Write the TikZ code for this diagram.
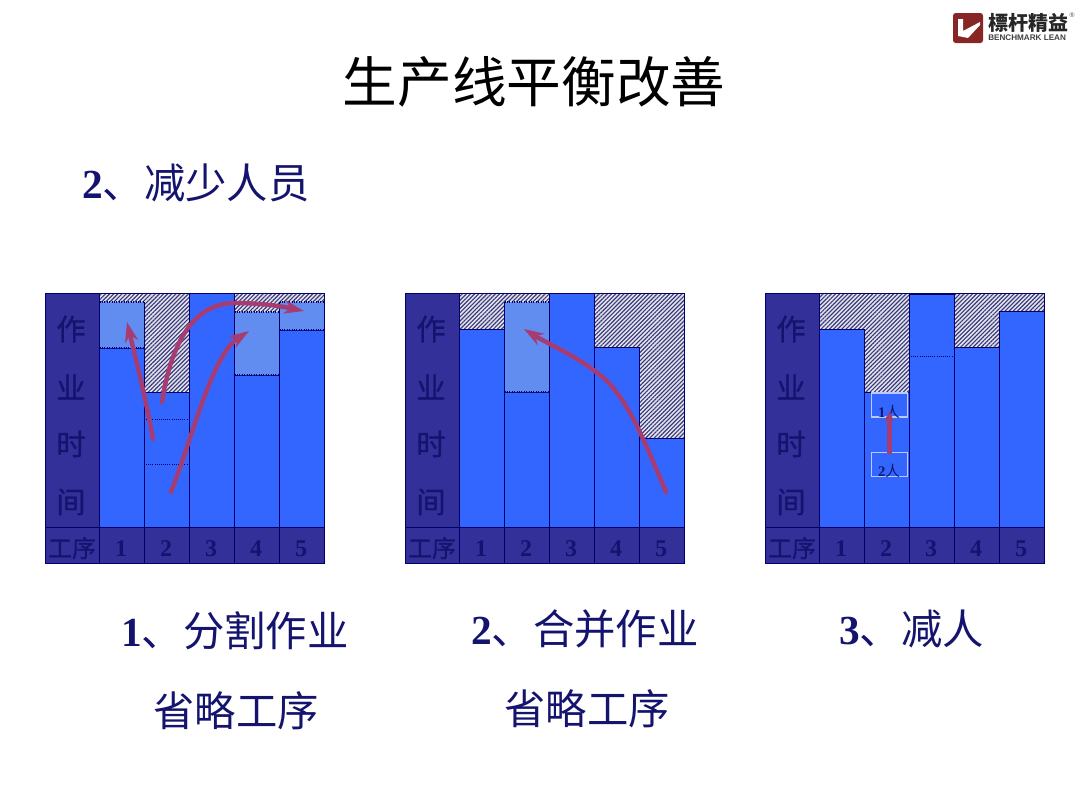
\documentclass[tikz,border=0pt]{standalone}
\usepackage{fontspec}
\setmainfont{Liberation Serif}
\newfontfamily\cjk{Noto Sans CJK SC}
\newfontfamily\cjkh[FakeBold=0.8]{Noto Sans CJK SC}
\newfontfamily\sans{Liberation Sans}
\usetikzlibrary{patterns.meta,arrows.meta,calc}
\definecolor{navy}{HTML}{33309A}
\definecolor{bar}{HTML}{3366FF}
\definecolor{ink}{HTML}{14146E}
\definecolor{lite}{HTML}{6F9AEE}
\definecolor{edge}{HTML}{00006A}
\definecolor{arr}{HTML}{A63C72}
\tikzset{
  x=0.75pt,y=-0.75pt,
  hatched/.style={pattern={Lines[angle=45,distance=2.2pt,line width=.85pt]},pattern color=ink!85,draw=none},
  sidebox/.style={fill=navy,draw=none},
  flow/.style={draw=arr,line width=3.3pt,-{Stealth[length=15pt,width=10pt]},line cap=round},
  side/.style={font=\cjkh\fontsize{22}{22}\selectfont,text=ink,inner sep=0pt},
  num/.style={font=\bfseries\fontsize{18}{18}\selectfont,text=ink,inner sep=0pt},
  proc/.style={font=\cjkh\fontsize{18}{18}\selectfont,text=ink,inner sep=0pt},
  capa/.style={font=\fontsize{31}{31}\selectfont,text=ink,inner sep=0pt,anchor=west},
  capb/.style={font=\cjk\fontsize{31}{31}\selectfont,text=ink,inner sep=0pt},
  mark2/.style={draw=white!65!bar,line width=.8pt,fill=none},
  tiny/.style={font=\fontsize{11}{11}\selectfont,text=ink,inner sep=0pt},
}
\newcommand{\panel}[2]{% #1 xshift, #2 name
  \begin{scope}[shift={(#1,0)}]
    \fill[white!60!lightgray] (99.5,293) rectangle (324.5,527);
    \fill[hatched] (99.5,293) rectangle (324.5,527);
    \fill[sidebox] (45,293) rectangle (99.5,563);
    \fill[navy] (99.5,527) rectangle (324.5,563);
    \node[side] (#2a) at (71,329) {作};
    \node[side] (#2b) at (71,387) {业};
    \node[side] (#2c) at (71,444) {时};
    \node[side] (#2d) at (71,502) {间};
    \node[proc] (#2p) at (72,548) {工序};
    \node[num] (#2n1) at (121,549) {\textbf{1}};
    \node[num] (#2n2) at (166,549) {\textbf{2}};
    \node[num] (#2n3) at (211,549) {\textbf{3}};
    \node[num] (#2n4) at (256,549) {\textbf{4}};
    \node[num] (#2n5) at (301,549) {\textbf{5}};
  \end{scope}
}
\newcommand{\dividers}[1]{%
  \begin{scope}[shift={(#1,0)}]
    \draw[edge,line width=.6pt] (45,293) rectangle (324.5,563);
    \draw[edge,line width=.6pt] (99.5,293) -- (99.5,563);
    \draw[edge,line width=.6pt] (45,527) -- (324.5,527);
    \foreach \xx in {144.5,189.5,234.5,279.5} \draw[edge,line width=.6pt] (\xx,527) -- (\xx,563);
  \end{scope}
}
\newcommand{\onebar}[3]{\fill[bar] (#1,#2) rectangle (#1+45,527);\draw[edge,line width=.6pt] (#1,#2) -- (#1,527) (#1+45,#2) -- (#1+45,527) (#1,#2) -- (#1+45,#2);}
\newcommand{\litebar}[3]{\fill[lite] (#1,#2) rectangle (#1+45,#3);\fill[pattern={Dots[distance=1.5pt,radius=.42pt]},pattern color=bar] (#1,#2) rectangle (#1+45,#3);\draw[edge,densely dotted,line width=.8pt] (#1,#2) -- (#1+45,#2) (#1,#3) -- (#1+45,#3);\draw[edge,line width=.6pt] (#1,#2) -- (#1,#3) (#1+45,#2) -- (#1+45,#3);}
\begin{document}
\begin{tikzpicture}
\useasboundingbox (0,0) rectangle (1080,810);
\fill[white] (0,0) rectangle (1080,810);

% title
\node[font=\cjk\fontsize{41}{41}\selectfont,inner sep=0pt,text=black] (title) at (534,82) {生产线平衡改善};
\node[capa] (sub) at (82,183) {\textbf{2}\cjk、减少人员};

% logo
\fill[rounded corners=2pt,fill=red!45!black!85] (953,13) rectangle (983,43);
\fill[white] (958,19) -- (963,19) -- (963,31) -- (980,22) -- (980,25) -- (968,38) -- (958,36) -- cycle;
\node[font=\cjk\bfseries\fontsize{15}{15}\selectfont,text=black!85,inner sep=0pt,anchor=west] (lg) at (988,23) {標杆精益};
\node[font=\sans\bfseries\fontsize{6.1}{6.1}\selectfont,text=black!75,inner sep=0pt,anchor=west] (lgb) at (988,38) {BENCHMARK LEAN};
\node[font=\sans\fontsize{5}{5}\selectfont,text=black!70,inner sep=0pt] (lgr) at (1072,15) {®};

% panels
\panel{0}{A}
\panel{360}{B}
\panel{720}{C}

% panel 1 bars
\onebar{99.5}{348}{}\litebar{99.5}{302}{348}
\onebar{144.5}{392}{}
\onebar{189.5}{293}{}
\onebar{234.5}{375}{}\litebar{234.5}{312}{375}
\onebar{279.5}{330}{}\litebar{279.5}{302}{330}
\draw[edge,densely dotted,line width=.6pt] (146,419) -- (188,419) (146,464) -- (188,464);
% panel 2 bars
\onebar{459.5}{329}{}
\onebar{504.5}{392}{}\litebar{504.5}{302}{392}
\onebar{549.5}{293}{}
\onebar{594.5}{347}{}
\onebar{639.5}{438}{}
% panel 3 bars
\onebar{819.5}{329}{}
\onebar{864.5}{392}{}
\onebar{909.5}{294}{}
\onebar{954.5}{347}{}
\onebar{999.5}{311}{}
\draw[edge,densely dotted,line width=.6pt] (911,356) -- (953,356);
\dividers{0}\dividers{360}\dividers{720}

% people boxes
\node[mark2,minimum width=27.5pt,minimum height=18pt,inner sep=0pt] (one) at (889.5,405) {};
\node[mark2,minimum width=27.5pt,minimum height=17.5pt,inner sep=0pt] (two) at (889.5,464.5) {};
\node[tiny,anchor=center] (onet) at (889,412) {\textbf{1}\cjk 人};
\node[tiny,anchor=center] (twot) at (889,471) {\textbf{2}\cjk 人};

% arrow anchor points
\coordinate (a1s) at (153,439); \coordinate (a1e) at (127,322);
\coordinate (a2s) at (162,402); \coordinate (a2e) at (304,311);
\coordinate (a3s) at (171,492); \coordinate (a3e) at (249,331);
\coordinate (b1s) at (666,492); \coordinate (b1e) at (524,329);

\draw[flow] (a1s) .. controls (146,400) and (136,360) .. (a1e);
\draw[flow] (a2s) .. controls (170,350) and (190,303) .. (235,303) .. controls (260,303) and (280,306) .. (a2e);
\draw[flow] (a3s) .. controls (195,430) and (212,355) .. (a3e);
\draw[flow] (b1s) .. controls (640,430) and (625,395) .. (600,375) .. controls (575,355) and (550,345) .. (b1e);
\draw[flow,-{Stealth[length=8pt,width=7pt]}] (two.north) -- (one.center |- 0,411);

% captions
\node[capa] (c1) at (121,631) {\textbf{1}\cjk、分割作业};
\node[capb] (c1b) at (236,711) {省略工序};
\node[capa] (c2) at (471,629) {\textbf{2}\cjk、合并作业};
\node[capb] (c2b) at (587,709) {省略工序};
\node[capa] (c3) at (839,629) {\textbf{3}\cjk、减人};
\end{tikzpicture}
\end{document}
